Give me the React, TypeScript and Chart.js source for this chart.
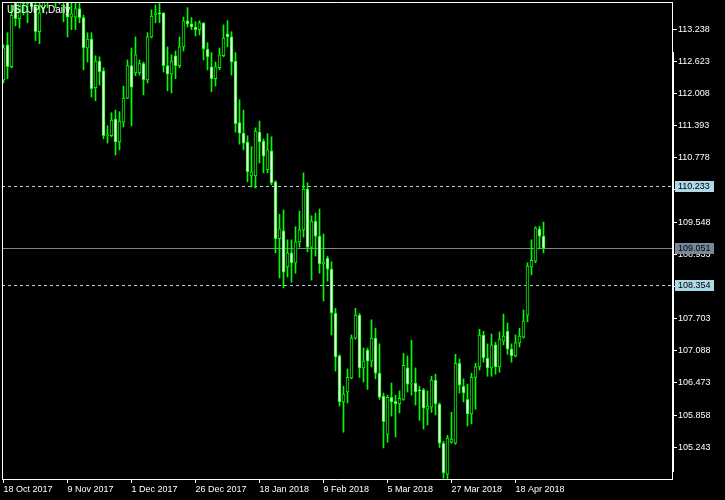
import React, { useEffect, useRef } from 'react';
import { Chart, registerables } from 'chart.js';

Chart.register(...registerables);

const symbolTitle = 'USDJPY,Daily';

const openP = [
  112.27, 112.94, 112.52, 113.74, 113.44, 113.90, 113.72, 114.10, 113.67, 113.19,
  113.65, 114.10, 114.00, 114.05, 113.90, 113.85, 113.85, 113.47, 113.47, 113.63,
  113.46, 112.88, 113.05, 112.12, 112.63, 112.44, 111.20, 111.20, 111.52, 111.08,
  111.46, 111.92, 112.54, 112.40, 112.40, 112.58, 112.27, 113.09, 113.51, 113.55,
  113.55, 112.54, 112.38, 112.73, 112.54, 112.90, 113.40, 113.34, 113.28, 113.23,
  113.36, 112.86, 112.52, 112.29, 112.50, 112.73, 113.15, 113.09, 112.63, 111.45,
  111.25, 111.08, 110.43, 110.43, 111.27, 111.10, 110.55, 110.91, 110.32, 109.23,
  109.38, 108.69, 108.96, 108.77, 109.17, 109.40, 110.18, 109.07, 109.57, 109.28,
  108.75, 108.86, 108.65, 107.81, 106.99, 106.11, 106.30, 106.57, 107.33, 107.77,
  106.76, 107.10, 106.89, 107.33, 106.66, 106.22, 105.49, 106.20, 106.12, 106.07,
  106.16, 106.76, 106.45, 106.47, 106.34, 106.34, 105.97, 106.01, 106.53, 106.07,
  105.32, 104.73, 105.34, 105.32, 106.85, 106.41, 106.16, 105.88, 106.58, 106.78,
  107.39, 106.95, 106.76, 107.20, 106.78, 107.27, 107.46, 107.12, 106.99, 107.24,
  107.35, 107.77, 108.69, 108.80, 109.42, 109.28,
];

const highP = [
  112.94, 113.17, 113.70, 114.05, 114.05, 114.25, 114.24, 114.45, 113.74, 113.74,
  114.20, 114.15, 114.45, 114.73, 114.10, 114.10, 113.95, 113.74, 113.74, 113.74,
  113.51, 113.17, 113.17, 112.73, 112.71, 112.50, 111.39, 111.64, 111.69, 111.66,
  112.15, 112.65, 112.88, 113.09, 112.65, 112.61, 113.17, 113.61, 113.70, 113.74,
  113.55, 112.90, 112.75, 112.82, 113.09, 113.47, 113.65, 113.46, 113.38, 113.40,
  113.36, 112.98, 112.79, 112.61, 112.88, 113.32, 113.40, 113.19, 112.79, 111.89,
  111.69, 111.20, 110.99, 111.35, 111.48, 111.14, 111.24, 111.18, 110.34, 109.70,
  109.78, 109.21, 109.21, 109.46, 109.76, 110.49, 110.30, 109.67, 109.72, 109.80,
  109.32, 108.90, 108.79, 107.90, 107.01, 106.41, 106.74, 107.39, 107.90, 107.80,
  107.14, 107.14, 107.68, 107.52, 107.22, 106.28, 106.24, 106.47, 106.24, 106.32,
  107.04, 106.99, 107.29, 106.76, 106.41, 106.37, 106.32, 106.60, 106.64, 106.09,
  105.36, 105.47, 105.91, 107.02, 106.93, 106.55, 106.45, 106.66, 106.85, 107.50,
  107.46, 107.22, 107.41, 107.25, 107.45, 107.79, 107.62, 107.22, 107.39, 107.52,
  107.87, 108.77, 109.21, 109.46, 109.47, 109.55,
];

const lowP = [
  112.21, 112.29, 112.50, 113.30, 113.26, 113.51, 113.36, 113.62, 113.02, 112.96,
  113.55, 113.65, 113.82, 113.65, 113.72, 113.38, 113.09, 113.23, 113.23, 113.36,
  112.46, 112.61, 111.94, 111.87, 112.17, 111.14, 111.06, 111.18, 110.83, 110.93,
  111.37, 111.91, 111.39, 112.35, 112.36, 111.98, 112.21, 113.07, 113.36, 113.36,
  112.42, 112.06, 112.02, 112.29, 112.50, 112.82, 113.28, 113.23, 113.11, 113.13,
  112.65, 112.46, 112.04, 112.15, 112.46, 112.71, 112.90, 112.36, 111.27, 111.04,
  110.93, 110.32, 110.22, 110.20, 110.68, 110.49, 110.49, 110.26, 108.96, 108.48,
  108.29, 108.50, 108.40, 108.57, 109.07, 109.26, 108.98, 108.44, 108.90, 108.57,
  108.04, 108.42, 107.39, 106.70, 106.03, 105.53, 106.09, 106.55, 107.31, 106.58,
  106.49, 106.35, 106.78, 106.55, 106.16, 105.23, 105.34, 105.84, 105.44, 105.90,
  106.14, 106.30, 106.24, 106.05, 105.76, 105.59, 105.67, 105.91, 105.86, 105.24,
  104.65, 104.63, 105.32, 105.30, 106.28, 106.11, 105.65, 105.69, 105.97, 106.72,
  106.87, 106.60, 106.60, 106.64, 106.68, 107.20, 107.02, 106.87, 106.97, 107.16,
  107.33, 107.64, 108.54, 108.77, 109.05, 108.96,
];

const closeP = [
  112.88, 112.52, 113.51, 113.44, 113.90, 113.72, 114.10, 113.67, 113.19, 113.55,
  114.10, 114.00, 114.05, 113.90, 113.85, 113.85, 113.47, 113.53, 113.63, 113.46,
  112.88, 113.05, 112.10, 112.63, 112.42, 111.20, 111.22, 111.50, 111.08, 111.48,
  111.92, 112.54, 112.13, 112.75, 112.58, 112.27, 113.09, 113.49, 113.55, 113.53,
  112.54, 112.38, 112.63, 112.54, 112.90, 113.40, 113.34, 113.28, 113.23, 113.36,
  112.86, 112.71, 112.29, 112.52, 112.75, 113.07, 113.09, 112.61, 111.43, 111.25,
  111.06, 110.51, 110.51, 111.29, 111.08, 110.81, 110.93, 110.30, 109.23, 109.42,
  108.59, 108.96, 108.77, 109.17, 109.40, 110.18, 109.07, 109.57, 109.28, 108.75,
  108.79, 108.65, 107.81, 106.97, 106.11, 106.26, 106.58, 107.33, 107.77, 106.76,
  106.89, 106.89, 107.33, 106.66, 106.20, 105.73, 106.20, 106.11, 106.07, 106.18,
  106.81, 106.45, 106.47, 106.30, 106.32, 105.99, 106.03, 106.53, 106.07, 105.32,
  104.75, 105.42, 105.40, 106.85, 106.43, 106.28, 105.88, 106.58, 106.78, 107.39,
  106.95, 106.76, 107.20, 106.78, 107.31, 107.37, 107.12, 106.99, 107.24, 107.37,
  107.66, 108.71, 108.82, 109.44, 109.28, 109.051,
];

const xTickBars = [0, 16, 32, 48, 64, 80, 96, 112, 128];
const xTickLabels = [
  '18 Oct 2017', '9 Nov 2017', '1 Dec 2017', '26 Dec 2017', '18 Jan 2018',
  '9 Feb 2018', '5 Mar 2018', '27 Mar 2018', '18 Apr 2018',
];
const yTicks = [
  113.238, 112.623, 112.008, 111.393, 110.778, 110.163, 109.548, 108.933,
  108.318, 107.703, 107.088, 106.473, 105.858, 105.243,
];
const dashedLevels = [110.233, 108.354];
const currentPrice = 109.051;
const priceMin = 104.636;
const priceMax = 113.758;

const FONT = 'Liberation Sans';
const GREEN = '#00ff00';

export default function App() {
  const ref = useRef<HTMLCanvasElement | null>(null);

  useEffect(() => {
    document.body.style.margin = '0';
    document.body.style.background = '#000';
    const canvas = ref.current;
    if (!canvas) return;

    const deco = {
      id: 'deco',
      beforeDraw(chart: any) {
        const { ctx, width, height } = chart;
        ctx.save();
        ctx.fillStyle = '#000';
        ctx.fillRect(0, 0, width, height);
        ctx.restore();
      },
      beforeDatasetsDraw(chart: any) {
        const { ctx, chartArea } = chart;
        const y = chart.scales.y;
        ctx.save();
        ctx.lineWidth = 1;
        ctx.strokeStyle = '#add8e6';
        ctx.setLineDash([3, 3]);
        dashedLevels.forEach((v) => {
          const py = Math.round(y.getPixelForValue(v)) + 0.5;
          ctx.beginPath();
          ctx.moveTo(chartArea.left, py);
          ctx.lineTo(chartArea.right, py);
          ctx.stroke();
        });
        ctx.setLineDash([]);
        ctx.strokeStyle = '#778899';
        const cy = Math.round(y.getPixelForValue(currentPrice)) + 0.5;
        ctx.beginPath();
        ctx.moveTo(chartArea.left, cy);
        ctx.lineTo(chartArea.right, cy);
        ctx.stroke();
        ctx.restore();
      },
      afterDraw(chart: any) {
        const { ctx, chartArea } = chart;
        const y = chart.scales.y;
        ctx.save();
        ctx.strokeStyle = '#fff';
        ctx.lineWidth = 1;
        ctx.beginPath();
        ctx.moveTo(chartArea.left, chartArea.top + 0.5);
        ctx.lineTo(chartArea.right + 1, chartArea.top + 0.5);
        ctx.moveTo(chartArea.left + 0.5, chartArea.top);
        ctx.lineTo(chartArea.left + 0.5, chartArea.bottom + 1);
        ctx.stroke();
        ctx.fillStyle = '#fff';
        ctx.fillRect(chartArea.right, 52, 2, 420);
        ctx.font = `10px "${FONT}"`;
        ctx.textBaseline = 'top';
        ctx.textAlign = 'left';
        ctx.fillStyle = '#fff';
        ctx.fillText(symbolTitle, 7, 5);
        ctx.font = `9px "${FONT}"`;
        const boxes: [number, string][] = [
          [dashedLevels[0], '#add8e6'],
          [currentPrice, '#778899'],
          [dashedLevels[1], '#add8e6'],
        ];
        boxes.forEach(([v, col]) => {
          const py = Math.round(y.getPixelForValue(v));
          ctx.fillStyle = col;
          ctx.fillRect(chartArea.right + 3, py - 5, 39, 11);
          ctx.fillStyle = '#000';
          ctx.textBaseline = 'middle';
          ctx.fillText(v.toFixed(3), chartArea.right + 6, py + 0.5);
        });
        ctx.restore();
      },
    };

    const idx = openP.map((_, i) => i);
    const chart = new Chart(canvas, {
      type: 'bar',
      data: {
        datasets: [
          {
            label: 'body',
            data: idx.map((i) => ({ x: i, y: [openP[i], closeP[i]] })) as any,
            backgroundColor: idx.map((i) => (closeP[i] >= openP[i] ? '#000' : '#fff')),
            borderColor: GREEN,
            borderWidth: 1,
            borderSkipped: false,
            barThickness: 3,
            minBarLength: 1,
            grouped: false,
            order: 1,
          } as any,
          {
            label: 'wick',
            data: idx.map((i) => ({ x: i, y: [lowP[i], highP[i]] })) as any,
            backgroundColor: GREEN,
            borderWidth: 0,
            barThickness: 1,
            grouped: false,
            order: 2,
          } as any,
        ],
      },
      options: {
        animation: false,
        responsive: false,
        devicePixelRatio: 1,
        layout: { padding: { left: 2, top: 2, right: 0, bottom: 0 } },
        plugins: { legend: { display: false }, tooltip: { enabled: false }, title: { display: false } },
        scales: {
          x: {
            type: 'linear',
            min: -0.375,
            max: 167.125,
            offset: false,
            afterFit: (s: any) => {
              s.height = 21;
              s.paddingLeft = 0;
              s.paddingRight = 0;
            },
            afterBuildTicks: (s: any) => {
              s.ticks = xTickBars.map((v) => ({ value: v }));
            },
            grid: { drawOnChartArea: false, drawTicks: true, tickLength: 4, color: '#fff', offset: false },
            border: { display: true, color: '#fff' },
            ticks: {
              color: '#fff',
              font: { family: FONT, size: 9 },
              align: 'start',
              maxRotation: 0,
              minRotation: 0,
              autoSkip: false,
              padding: 1,
              callback: (v: any) => {
                const k = xTickBars.indexOf(Number(v));
                return k >= 0 ? xTickLabels[k] : '';
              },
            },
          },
          y: {
            type: 'linear',
            position: 'right',
            min: priceMin,
            max: priceMax,
            afterFit: (s: any) => {
              s.width = 53;
              s.paddingTop = 0;
              s.paddingBottom = 0;
            },
            afterBuildTicks: (s: any) => {
              s.ticks = yTicks.map((v) => ({ value: v }));
            },
            grid: { drawOnChartArea: false, drawTicks: true, tickLength: 5, color: '#fff' },
            border: { display: true, color: '#fff' },
            ticks: {
              color: '#fff',
              font: { family: FONT, size: 9 },
              padding: 1,
              autoSkip: false,
              callback: (v: any) => Number(v).toFixed(3),
            },
          },
        },
      } as any,
      plugins: [deco],
    });

    return () => chart.destroy();
  }, []);

  return (
    <div style={{ width: 725, height: 500, background: '#000' }}>
      <canvas ref={ref} width={725} height={500} style={{ display: 'block', width: 725, height: 500 }} />
    </div>
  );
}
